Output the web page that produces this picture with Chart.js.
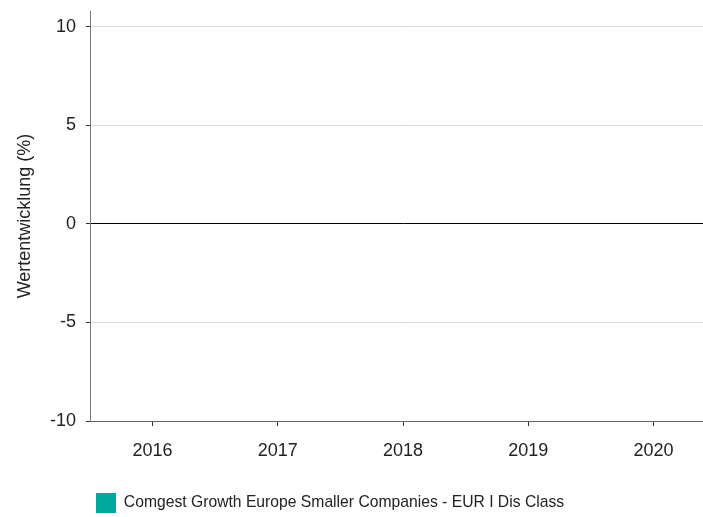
<!DOCTYPE html>
<html lang="de">
<head>
<meta charset="utf-8">
<title>Wertentwicklung</title>
<script src="https://cdn.jsdelivr.net/npm/chart.js@4.4.0/dist/chart.umd.min.js"></script>
<style>
    html, body { margin: 0; padding: 0; background: #fff; overflow: hidden; }
</style>
</head>
<body>
<canvas id="graficoWertentwicklung" width="716" height="523"></canvas>
<script>
// Datos del gráfico
const jahre = ['2016', '2017', '2018', '2019', '2020'];
const fondsName = 'Comgest Growth Europe Smaller Companies - EUR I Dis Class';
const fondsWerte = [null, null, null, null, null]; // sin barras visibles
const yTicks = [-10, -5, 0, 5, 10];

const fuente = { family: 'Arial, "Liberation Sans", sans-serif', size: 18 };
const fuenteLeyenda = { family: 'Arial, "Liberation Sans", sans-serif', size: 15.7 };

// Mueve la leyenda al lado izquierdo
const legendOffset = {
    id: 'legendOffset',
    afterLayout(chart) {
        chart.legend.left = 86;
    }
};

new Chart(document.getElementById('graficoWertentwicklung'), {
    type: 'bar',
    data: {
        labels: jahre,
        datasets: [{
            label: fondsName,
            data: fondsWerte,
            backgroundColor: '#00a99d',
            borderWidth: 0
        }]
    },
    options: {
        responsive: false,
        animation: false,
        layout: { padding: { top: 11, left: 0, right: 0, bottom: 0 } },
        plugins: {
            legend: {
                position: 'bottom',
                align: 'start',
                labels: {
                    boxWidth: 20,
                    boxHeight: 20,
                    padding: 10,
                    color: '#222',
                    font: fuenteLeyenda
                }
            },
            tooltip: { enabled: false }
        },
        scales: {
            x: {
                grid: {
                    drawOnChartArea: false,
                    offset: false,
                    tickLength: 5,
                    tickColor: '#333'
                },
                border: { color: '#666', width: 1 },
                ticks: { color: '#222', font: fuente, padding: 14 },
                afterFit: (scale) => { scale.height = 62; }
            },
            y: {
                min: -10,
                max: 10.8,
                afterBuildTicks: (scale) => {
                    scale.ticks = yTicks.map(v => ({ value: v }));
                },
                grid: {
                    color: (ctx) => ctx.tick && ctx.tick.value === 0 ? '#000' : '#d9d9d9',
                    tickLength: 4,
                    tickColor: '#333'
                },
                border: { color: '#777', width: 1 },
                ticks: { color: '#222', font: fuente, padding: 10 },
                title: {
                    display: true,
                    text: 'Wertentwicklung (%)',
                    color: '#222',
                    font: fuente,
                    padding: { top: 14, bottom: 0 }
                },
                afterFit: (scale) => {
                    scale.width = 90;
                    scale.paddingTop = 0;
                    scale.paddingBottom = 0;
                }
            }
        }
    },
    plugins: [legendOffset]
});
</script>
</body>
</html>
